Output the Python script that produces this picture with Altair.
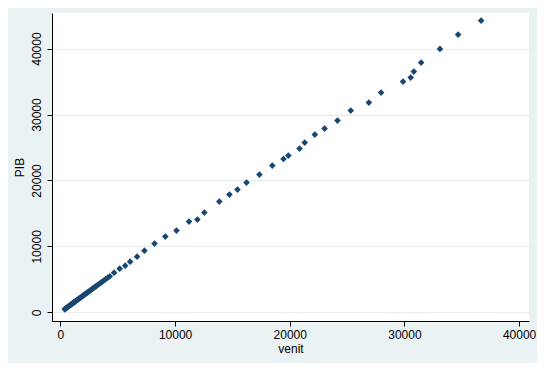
import altair as alt
import pandas as pd

venit = [380, 430, 500, 560, 620, 690, 750, 820, 880, 950, 1010, 1080, 1150, 1210,
         1280, 1340, 1420, 1490, 1560, 1640, 1720, 1790, 1880, 1960, 2040, 2130,
         2220, 2310, 2400, 2500, 2590, 2690, 2790, 2900, 3010, 3120, 3240, 3370,
         3500, 3640, 3790, 3950, 4120, 4300,
         4681, 5167, 5653, 6079, 6687, 7325, 8207, 9149, 10122, 11216, 11945, 12553,
         13860, 14742, 15441, 16231, 17356, 18480, 19453, 19878, 20851, 21307, 22188,
         23040, 24164, 25319, 26900, 27964, 29878, 30547, 30821, 31459, 33100, 34681,
         36687]
pib = [450, 560, 640, 710, 790, 880, 950, 1040, 1120, 1210, 1280, 1370, 1460, 1540,
       1630, 1710, 1810, 1900, 1990, 2090, 2190, 2280, 2400, 2500, 2600, 2710,
       2830, 2940, 3060, 3190, 3300, 3430, 3560, 3700, 3840, 3980, 4130, 4300,
       4460, 4640, 4830, 5020, 5240, 5450,
       6018, 6625, 7080, 7686, 8445, 9355, 10417, 11479, 12389, 13755, 14058, 15120,
       16789, 17851, 18609, 19671, 20885, 22250, 23262, 23767, 24829, 25739, 26953,
       27863, 29077, 30594, 31808, 33325, 34993, 35600, 36511, 37876, 39949, 42124,
       44247]

ticks = [0, 10000, 20000, 30000, 40000]

df = pd.DataFrame({"venit": venit, "PIB": pib})

font = "Liberation Sans"

chart = alt.Chart(df).mark_point(
    shape="diamond", filled=True, size=44, color="#1a476f", opacity=1
).encode(
    x=alt.X("venit:Q", title="venit",
            scale=alt.Scale(domain=[-733, 40864], nice=False, zero=False),
            axis=alt.Axis(values=ticks, format="d", grid=False,
                          domainColor="#000000", tickColor="#000000",
                          tickSize=5, labelPadding=3, titlePadding=3,
                          labelFont=font, titleFont=font, labelFontSize=12,
                          titleFontSize=12, titleFontWeight="normal",
                          labelColor="#000000", titleColor="#000000")),
    y=alt.Y("PIB:Q", title="PIB",
            scale=alt.Scale(domain=[-1318, 45394], nice=False, zero=False),
            axis=alt.Axis(values=ticks, format="d", grid=True,
                          gridColor="#e4ecef", gridWidth=1,
                          domainColor="#000000", tickColor="#000000",
                          tickSize=5, labelAngle=-90, labelAlign="center",
                          labelBaseline="bottom", labelPadding=4,
                          titlePadding=4,
                          labelFont=font, titleFont=font, labelFontSize=12,
                          titleFontSize=12, titleFontWeight="normal",
                          labelColor="#000000", titleColor="#000000")),
).properties(
    width=477, height=308,
    autosize=alt.AutoSizeParams(type="none"),
    padding={"left": 44, "top": 5, "right": 8, "bottom": 42},
    background="#eaf2f3",
).configure_view(fill="#ffffff", strokeWidth=0)

chart.save("out.html", embed_options={"renderer": "svg", "actions": False})
